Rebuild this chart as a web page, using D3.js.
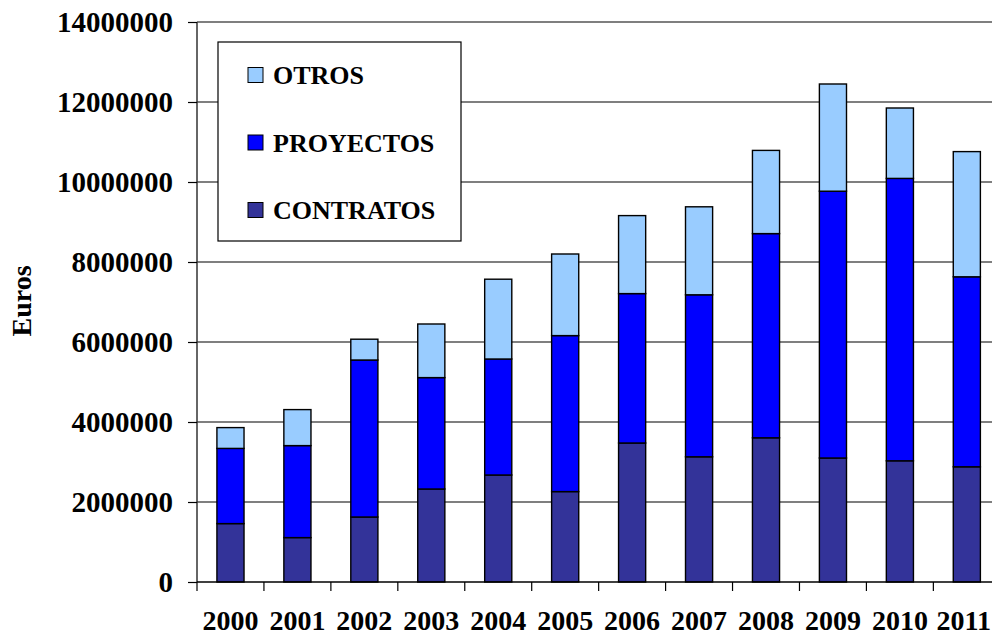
<!DOCTYPE html>
<html><head><meta charset="utf-8">
<script src="https://cdn.jsdelivr.net/npm/d3@7"></script>
<style>body{margin:0;background:#fff}svg{display:block}text{font-family:"Liberation Serif","Times New Roman",serif;font-weight:bold;fill:#000}</style>
</head><body><svg id="c" width="992" height="635"></svg>
<script>
const years = ["2000","2001","2002","2003","2004","2005","2006","2007","2008","2009","2010","2011"];
const contratos = [1460000,1110000,1625000,2325000,2675000,2260000,3475000,3130000,3605000,3100000,3030000,2880000];
const proyectosTop = [3340000,3410000,5550000,5110000,5575000,6160000,7210000,7180000,8710000,9770000,10090000,7630000];
const otrosTop = [3860000,4310000,6070000,6450000,7570000,8200000,9160000,9380000,10790000,12450000,11850000,10760000];
const proyectos = proyectosTop.map((v,i)=>v-contratos[i]);
const otros = otrosTop.map((v,i)=>v-proyectosTop[i]);
const yTicks = [0,2000000,4000000,6000000,8000000,10000000,12000000,14000000];
const seriesNames = ["CONTRATOS","PROYECTOS","OTROS"];
const colors = {"CONTRATOS":"#333399","PROYECTOS":"#0000FF","OTROS":"#99CCFF"};
const FF = '"Liberation Serif","Times New Roman",serif';

const svg = d3.select("#c");
const L=197, R=1000.3, T=22, B=582;
const x = d3.scaleBand().domain(years).range([L,R]).padding(0);
const y = d3.scaleLinear().domain([0,14000000]).range([B,T]);

svg.append("g").selectAll("line").data(yTicks.filter(d=>d>0)).join("line")
  .attr("x1",L).attr("x2",992).attr("y1",d=>y(d)).attr("y2",d=>y(d))
  .attr("stroke","#000").attr("stroke-width",1.2);

const table = years.map((yr,i)=>({year:yr,CONTRATOS:contratos[i],PROYECTOS:proyectos[i],OTROS:otros[i]}));
const stack = d3.stack().keys(seriesNames)(table);
const bw = x.bandwidth()*0.405;
svg.append("g").selectAll("g").data(stack).join("g")
  .attr("fill",d=>colors[d.key])
  .selectAll("rect").data(d=>d).join("rect")
  .attr("x",d=>x(d.data.year)+x.bandwidth()/2-bw/2)
  .attr("width",bw)
  .attr("y",d=>y(d[1]))
  .attr("height",d=>y(d[0])-y(d[1]))
  .attr("stroke","#000").attr("stroke-width",1.4);

const ya = svg.append("g").attr("transform",`translate(${L},0)`)
  .call(d3.axisLeft(y).tickValues(yTicks).tickFormat(d3.format("d")).tickSize(9).tickPadding(15));
ya.attr("font-family",null).attr("font-size",null);
ya.select(".domain").attr("stroke","#333").attr("stroke-width",1.5).attr("d",`M0,${T}V${B+9}`);
ya.selectAll(".tick line").attr("stroke","#000").attr("stroke-width",1.2);
ya.selectAll(".tick text").style("font-size","29px").style("font-family",FF).style("font-weight","bold").attr("dy","0.34em");

const xa = svg.append("g").attr("transform",`translate(0,${B})`)
  .call(d3.axisBottom(x).tickSize(0).tickPadding(0));
xa.attr("font-family",null).attr("font-size",null);
xa.select(".domain").attr("stroke","#000").attr("stroke-width",1.5).attr("d",`M${L},0H992`);
xa.selectAll(".tick text").style("font-size","28px").style("font-family",FF).style("font-weight","bold").attr("y",48).attr("dy",0);
// keep the last label inside the viewport
xa.selectAll(".tick").each(function(){
  const t = d3.select(this).select("text");
  const bb = this.getBBox();
  const m = this.transform.baseVal.consolidate().matrix;
  const right = m.e + bb.x + bb.width;
  if (right > 991) t.attr("x", 991 - right);
});
svg.append("g").selectAll("line").data(years.slice(1).concat(["end"])).join("line")
  .attr("x1",(d,i)=>L+(i+1)*x.step()).attr("x2",(d,i)=>L+(i+1)*x.step())
  .attr("y1",B).attr("y2",B+9).attr("stroke","#000").attr("stroke-width",1.2);

svg.append("text").attr("transform","translate(31,301) rotate(-90)").attr("text-anchor","middle")
  .style("font-size","28px").text("Euros");

const lg = svg.append("g");
lg.append("rect").attr("x",218).attr("y",42).attr("width",243).attr("height",199)
  .attr("fill","#fff").attr("stroke","#000").attr("stroke-width",1.2);
const legendItems = ["OTROS","PROYECTOS","CONTRATOS"];
legendItems.forEach((k,i)=>{
  const cy = 75 + i*67.5;
  lg.append("rect").attr("x",248).attr("y",cy-7.5).attr("width",15).attr("height",15)
    .attr("fill",colors[k]).attr("stroke","#000").attr("stroke-width",1);
  lg.append("text").attr("x",273).attr("y",cy+9).style("font-size","26px").text(k);
});
</script></body></html>
